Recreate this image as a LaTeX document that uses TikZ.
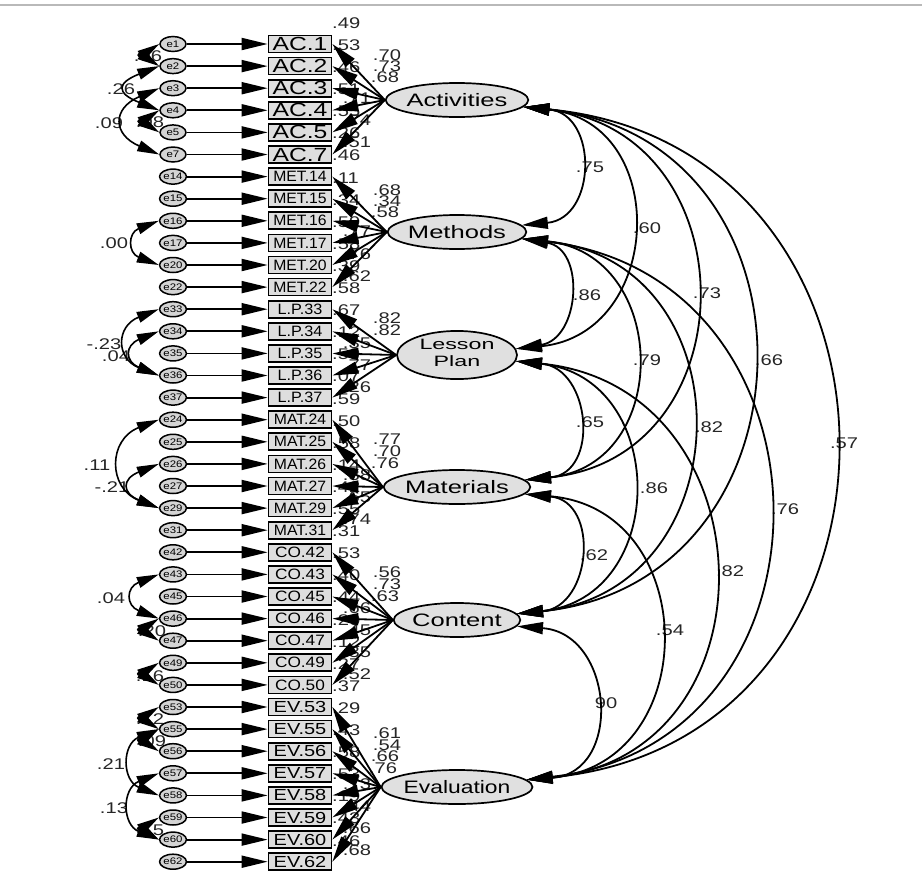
\documentclass[tikz,border=0pt]{standalone}
\usepackage{fontspec}
\setmainfont{Liberation Sans}
\usetikzlibrary{arrows.meta,shapes.geometric}
\definecolor{boxgray}{HTML}{DEDEDE}
\definecolor{errgray}{HTML}{D4D4D4}
\definecolor{latgray}{HTML}{E0E0E0}
\newcommand\fs[1]{\fontsize{#1}{#1}\selectfont}
\newcommand\sx[2]{\scalebox{#1}[1]{#2}}
\newcommand\tac[1]{{\fs{19}\sx{1.3}{#1}}}
\newcommand\tmet[1]{{\fs{15}\sx{1.05}{#1}}}
\newcommand\tlp[1]{{\fs{15}\sx{1.08}{#1}}}
\newcommand\tco[1]{{\fs{15}\sx{1.15}{#1}}}
\newcommand\tev[1]{{\fs{16}\sx{1.25}{#1}}}
\newcommand\terr[1]{{\fs{9.5}\sx{1.2}{#1}}}
\newcommand\tnum[1]{{\fs{15.5}\sx{1.3}{#1}}}
\newcommand\tlat[2][1.42]{{\fs{18}\sx{#1}{#2}}}
\newcommand\obsrow[4]{%
  \node[obs] (b#1) at (300,{44+22.1*(#1-1)}) {#4{#2}};
  \node[err] (e#1) at (173,{44+22.1*(#1-1)}) {\terr{e#3}};}
\newcommand\numat[3]{\node[num] at (#1,#2) {\tnum{#3}};}
\newcommand\rsq[2]{\node[num,anchor=west] at (332,{44+22.1*(#1-1)-21}) {\tnum{#2}};}
\tikzset{
  obs/.style={draw, line width=1.7pt, fill=boxgray, minimum width=63pt, minimum height=17pt, inner sep=0pt},
  err/.style={ellipse, draw, line width=1.5pt, fill=errgray, minimum width=26pt, minimum height=15pt, inner sep=0pt},
  lat/.style={ellipse, draw, line width=1.7pt, fill=latgray, minimum width=120pt, minimum height=34pt, inner sep=0pt},
  arr/.style={line width=1.8pt, -{Triangle[length=26pt,width=12pt]}},
  darr/.style={line width=1.8pt, {Triangle[length=26pt,width=12pt]}-{Triangle[length=26pt,width=12pt]}},
  carr/.style={line width=1.6pt, {Triangle[length=22pt,width=11pt]}-{Triangle[length=22pt,width=11pt]}},
  num/.style={inner sep=0pt, text=black!85}
}
\begin{document}
\begin{tikzpicture}[x=1pt,y=-1pt]
\fill[white] (0,0) rectangle (922,879);
\useasboundingbox (0,0) rectangle (922,879);
\draw[gray!55, line width=1.2pt] (0,5) -- (922,5);
% observed variables and errors
\obsrow{1}{AC.1}{1}{\tac}
\obsrow{2}{AC.2}{2}{\tac}
\obsrow{3}{AC.3}{3}{\tac}
\obsrow{4}{AC.4}{4}{\tac}
\obsrow{5}{AC.5}{5}{\tac}
\obsrow{6}{AC.7}{7}{\tac}
\obsrow{7}{MET.14}{14}{\tmet}
\obsrow{8}{MET.15}{15}{\tmet}
\obsrow{9}{MET.16}{16}{\tmet}
\obsrow{10}{MET.17}{17}{\tmet}
\obsrow{11}{MET.20}{20}{\tmet}
\obsrow{12}{MET.22}{22}{\tmet}
\obsrow{13}{L.P.33}{33}{\tlp}
\obsrow{14}{L.P.34}{34}{\tlp}
\obsrow{15}{L.P.35}{35}{\tlp}
\obsrow{16}{L.P.36}{36}{\tlp}
\obsrow{17}{L.P.37}{37}{\tlp}
\obsrow{18}{MAT.24}{24}{\tmet}
\obsrow{19}{MAT.25}{25}{\tmet}
\obsrow{20}{MAT.26}{26}{\tmet}
\obsrow{21}{MAT.27}{27}{\tmet}
\obsrow{22}{MAT.29}{29}{\tmet}
\obsrow{23}{MAT.31}{31}{\tmet}
\obsrow{24}{CO.42}{42}{\tco}
\obsrow{25}{CO.43}{43}{\tco}
\obsrow{26}{CO.45}{45}{\tco}
\obsrow{27}{CO.46}{46}{\tco}
\obsrow{28}{CO.47}{47}{\tco}
\obsrow{29}{CO.49}{49}{\tco}
\obsrow{30}{CO.50}{50}{\tco}
\obsrow{31}{EV.53}{53}{\tev}
\obsrow{32}{EV.55}{55}{\tev}
\obsrow{33}{EV.56}{56}{\tev}
\obsrow{34}{EV.57}{57}{\tev}
\obsrow{35}{EV.58}{58}{\tev}
\obsrow{36}{EV.59}{59}{\tev}
\obsrow{37}{EV.60}{60}{\tev}
\obsrow{38}{EV.62}{62}{\tev}
% latent factors
\node[lat] (F1) at (457,100) {\tlat{Activities}};
\node[lat] (F2) at (457,232) {\tlat{Methods}};
\node[lat] (F3) at (457,355) {{\fontsize{15}{17}\selectfont\sx{1.55}{\begin{tabular}{@{}c@{}}Lesson\\Plan\end{tabular}}}};
\node[lat] (F4) at (457,487) {\tlat{Materials}};
\node[lat] (F5) at (457,620) {\tlat{Content}};
\node[lat] (F6) at (457,787) {\tlat[1.27]{Evaluation}};
% squared multiple correlations
\rsq{1}{.49}\rsq{2}{.53}\rsq{3}{.46}\rsq{4}{.51}\rsq{5}{.55}\rsq{6}{.26}
\rsq{7}{.46}\rsq{8}{.11}\rsq{9}{.34}\rsq{10}{.59}\rsq{11}{.58}\rsq{12}{.39}
\rsq{13}{.58}\rsq{14}{.67}\rsq{15}{.12}\rsq{16}{.59}\rsq{17}{.07}
\rsq{18}{.59}\rsq{19}{.50}\rsq{20}{.58}\rsq{21}{.14}\rsq{22}{.42}\rsq{23}{.55}
\rsq{24}{.31}\rsq{25}{.53}\rsq{26}{.40}\rsq{27}{.44}\rsq{28}{.20}\rsq{29}{.12}\rsq{30}{.27}
\rsq{31}{.37}\rsq{32}{.29}\rsq{33}{.43}\rsq{34}{.58}\rsq{35}{.53}\rsq{36}{.19}\rsq{37}{.43}\rsq{38}{.46}
% loadings
\numat{387}{55}{.70}\numat{387}{66}{.73}\numat{385}{77}{.68}
\numat{357}{98}{.71}\numat{357}{120}{.74}\numat{357}{142}{.51}
\numat{387}{190}{.68}\numat{387}{201}{.34}\numat{385}{212}{.58}
\numat{357}{231}{.77}\numat{357}{254}{.76}\numat{357}{276}{.62}
\numat{387}{318}{.82}\numat{387}{330}{.82}
\numat{357}{343}{.35}\numat{357}{365}{.77}\numat{357}{387}{.26}
\numat{387}{439}{.77}\numat{387}{451}{.70}\numat{385}{463}{.76}
\numat{357}{475}{.38}\numat{357}{497}{.65}\numat{357}{519}{.74}
\numat{387}{572}{.56}\numat{387}{584}{.73}\numat{385}{596}{.63}
\numat{357}{608}{.66}\numat{357}{630}{.45}\numat{357}{652}{.35}\numat{357}{674}{.52}
\numat{387}{733}{.61}\numat{387}{745}{.54}\numat{385}{756}{.66}\numat{383}{768}{.76}
\numat{357}{784}{.73}\numat{357}{806}{.44}\numat{357}{828}{.66}\numat{357}{850}{.68}
% factor correlations labels
\numat{590}{167}{.75}\numat{647}{228}{.60}\numat{707}{293}{.73}\numat{769}{360}{.66}\numat{844}{443}{.57}
\numat{587}{295}{.86}\numat{647}{360}{.79}\numat{709}{427}{.82}\numat{785}{509}{.76}
\numat{590}{422}{.65}\numat{654}{488}{.86}\numat{730}{571}{.82}
\numat{594}{555}{.62}\numat{670}{630}{.54}
\numat{606}{703}{90}
% error covariance labels
\numat{148}{56}{.06}\numat{121}{89}{.26}\numat{109}{123}{.09}\numat{150}{122}{.08}
\numat{114}{243}{.00}
\numat{104}{344}{-.23}\numat{116}{356}{.04}
\numat{97}{465}{.11}\numat{112}{487}{-.21}
\numat{111}{598}{.04}\numat{152}{631}{.20}\numat{150}{676}{.16}
\numat{150}{719}{.12}\numat{152}{741}{.09}\numat{111}{764}{.21}\numat{114}{808}{.13}\numat{150}{830}{.15}
% error -> indicator
\foreach \k in {1,...,38} \draw[arr] (e\k.east) -- (b\k.west);
% factor -> indicator
\foreach \k in {1,...,6} \draw[arr] (F1.west) -- (b\k.east);
\foreach \k in {7,...,12} \draw[arr] (F2.west) -- (b\k.east);
\foreach \k in {13,...,17} \draw[arr] (F3.west) -- (b\k.east);
\foreach \k in {18,...,23} \draw[arr] (F4.west) -- (b\k.east);
\foreach \k in {24,...,30} \draw[arr] (F5.west) -- (b\k.east);
\foreach \k in {31,...,38} \draw[arr] (F6.west) -- (b\k.east);
% factor correlations
\draw[darr] (F1.-6) .. controls +(75,7) and +(75,-7) .. (F2.6);
\draw[darr] (F1.-6) .. controls +(148,15) and +(148,-15) .. (F3.6);
\draw[darr] (F1.-6) .. controls +(227,23) and +(227,-23) .. (F4.6);
\draw[darr] (F1.-6) .. controls +(308,31) and +(308,-31) .. (F5.6);
\draw[darr] (F1.-6) .. controls +(411,39) and +(411,-39) .. (F6.6);
\draw[darr] (F2.-6) .. controls +(64,10) and +(64,-10) .. (F3.6);
\draw[darr] (F2.-6) .. controls +(148,15) and +(148,-15) .. (F4.6);
\draw[darr] (F2.-6) .. controls +(228,23) and +(228,-23) .. (F5.6);
\draw[darr] (F2.-6) .. controls +(324,37) and +(324,-37) .. (F6.6);
\draw[darr] (F3.-6) .. controls +(75,7) and +(75,-7) .. (F4.6);
\draw[darr] (F3.-6) .. controls +(153,16) and +(153,-16) .. (F5.6);
\draw[darr] (F3.-6) .. controls +(255,25) and +(255,-25) .. (F6.6);
\draw[darr] (F4.-6) .. controls +(75,7) and +(75,-7) .. (F5.6);
\draw[darr] (F4.-6) .. controls +(177,15) and +(177,-15) .. (F6.6);
\draw[darr] (F5.-6) .. controls +(97,7) and +(97,-7) .. (F6.6);
% error covariances
\draw[carr] (e1.west) .. controls +(-22,14) and +(-22,-14) .. (e2.west);
\draw[carr] (e2.west) .. controls +(-43,17) and +(-43,-17) .. (e4.west);
\draw[carr] (e3.west) .. controls +(-47,20) and +(-47,-20) .. (e6.west);
\draw[carr] (e4.west) .. controls +(-22,14) and +(-22,-14) .. (e5.west);
\draw[carr] (e9.west) .. controls +(-31,12) and +(-31,-12) .. (e11.west);
\draw[carr] (e13.west) .. controls +(-43,17) and +(-43,-17) .. (e16.west);
\draw[carr] (e14.west) .. controls +(-34,14) and +(-34,-14) .. (e16.west);
\draw[carr] (e18.west) .. controls +(-51,20) and +(-51,-20) .. (e22.west);
\draw[carr] (e20.west) .. controls +(-37,15) and +(-37,-15) .. (e22.west);
\draw[carr] (e25.west) .. controls +(-33,13) and +(-33,-13) .. (e27.west);
\draw[carr] (e27.west) .. controls +(-22,14) and +(-22,-14) .. (e28.west);
\draw[carr] (e29.west) .. controls +(-22,14) and +(-22,-14) .. (e30.west);
\draw[carr] (e31.west) .. controls +(-22,14) and +(-22,-14) .. (e32.west);
\draw[carr] (e32.west) .. controls +(-22,14) and +(-22,-14) .. (e33.west);
\draw[carr] (e32.west) .. controls +(-37,15) and +(-37,-15) .. (e35.west);
\draw[carr] (e34.west) .. controls +(-37,15) and +(-37,-15) .. (e37.west);
\draw[carr] (e36.west) .. controls +(-22,14) and +(-22,-14) .. (e37.west);
\end{tikzpicture}
\end{document}
